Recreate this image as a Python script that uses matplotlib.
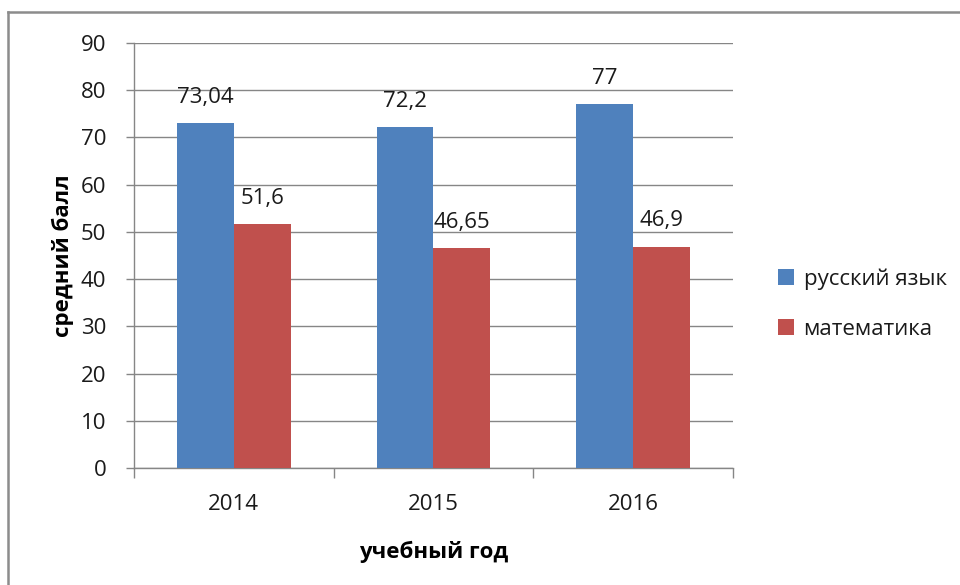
import matplotlib
matplotlib.use("Agg")
import matplotlib.pyplot as plt
import numpy as np

plt.rcParams['font.family'] = ['Open Sans', 'DejaVu Sans']

years = ["2014", "2015", "2016"]
russian = [73.04, 72.2, 77]
math_scores = [51.6, 46.65, 46.9]
russian_labels = ["73,04", "72,2", "77"]
math_labels = ["51,6", "46,65", "46,9"]
series_names = ["русский язык", "математика"]
colors = ["#4F81BD", "#C0504D"]

FS = 16
TXT = '#1a1a1a'

fig = plt.figure(figsize=(9.6, 5.85), dpi=100)
ax = fig.add_axes([134/960, 1-468/585, (733-134)/960, (468-43)/585])

x = np.arange(len(years))
w = 0.285
b1 = ax.bar(x - w/2, russian, w, color=colors[0], label=series_names[0], zorder=3)
b2 = ax.bar(x + w/2, math_scores, w, color=colors[1], label=series_names[1], zorder=3)

for bars, labels in ((b1, russian_labels), (b2, math_labels)):
    for rect, lab in zip(bars, labels):
        ax.annotate(lab, (rect.get_x() + rect.get_width()/2, rect.get_height()),
                    xytext=(0, 18.5), textcoords='offset points',
                    ha='center', va='center', fontsize=FS, color=TXT)

ax.set_xlim(-0.5, 2.5)
ax.set_ylim(0, 90)
ax.set_yticks(np.arange(0, 91, 10))
ax.set_xticks(x)
ax.set_xticklabels(years)
ax.set_xticks([-0.5, 0.5, 1.5, 2.5], minor=True)
ax.tick_params(axis='x', which='major', length=0, pad=19, labelsize=FS, labelcolor=TXT)
ax.tick_params(axis='x', which='minor', length=7, width=1, color='#868686', direction='out')
ax.tick_params(axis='y', length=6, width=1, color='#868686', pad=14, labelsize=FS, labelcolor=TXT)

ax.grid(axis='y', color='#868686', linewidth=1, zorder=0)
for s in ('top', 'right'):
    ax.spines[s].set_visible(False)
for s in ('left', 'bottom'):
    ax.spines[s].set_color('#868686')
    ax.spines[s].set_linewidth(1)

ax.set_ylabel("средний балл", fontsize=FS, fontweight='bold', labelpad=5, color='#000000')
ax.set_xlabel("учебный год", fontsize=FS, fontweight='bold', labelpad=18, color='#000000')

fig.legend(handles=[b1, b2], labels=series_names, loc='center left',
           bbox_to_anchor=(758/960, 1-304/585), frameon=False, fontsize=FS,
           handlelength=0.7, handleheight=0.7, handletextpad=0.45, labelspacing=1.3,
           labelcolor=TXT)

# outer chart frame
fig.add_artist(plt.Line2D([8/960, 8/960], [0, 1-12/585], transform=fig.transFigure,
                          color='#8c8c8c', linewidth=1.8))
fig.add_artist(plt.Line2D([8/960, 1], [1-12/585, 1-12/585], transform=fig.transFigure,
                          color='#8c8c8c', linewidth=1.8))

fig.savefig("out.png", dpi=100)
